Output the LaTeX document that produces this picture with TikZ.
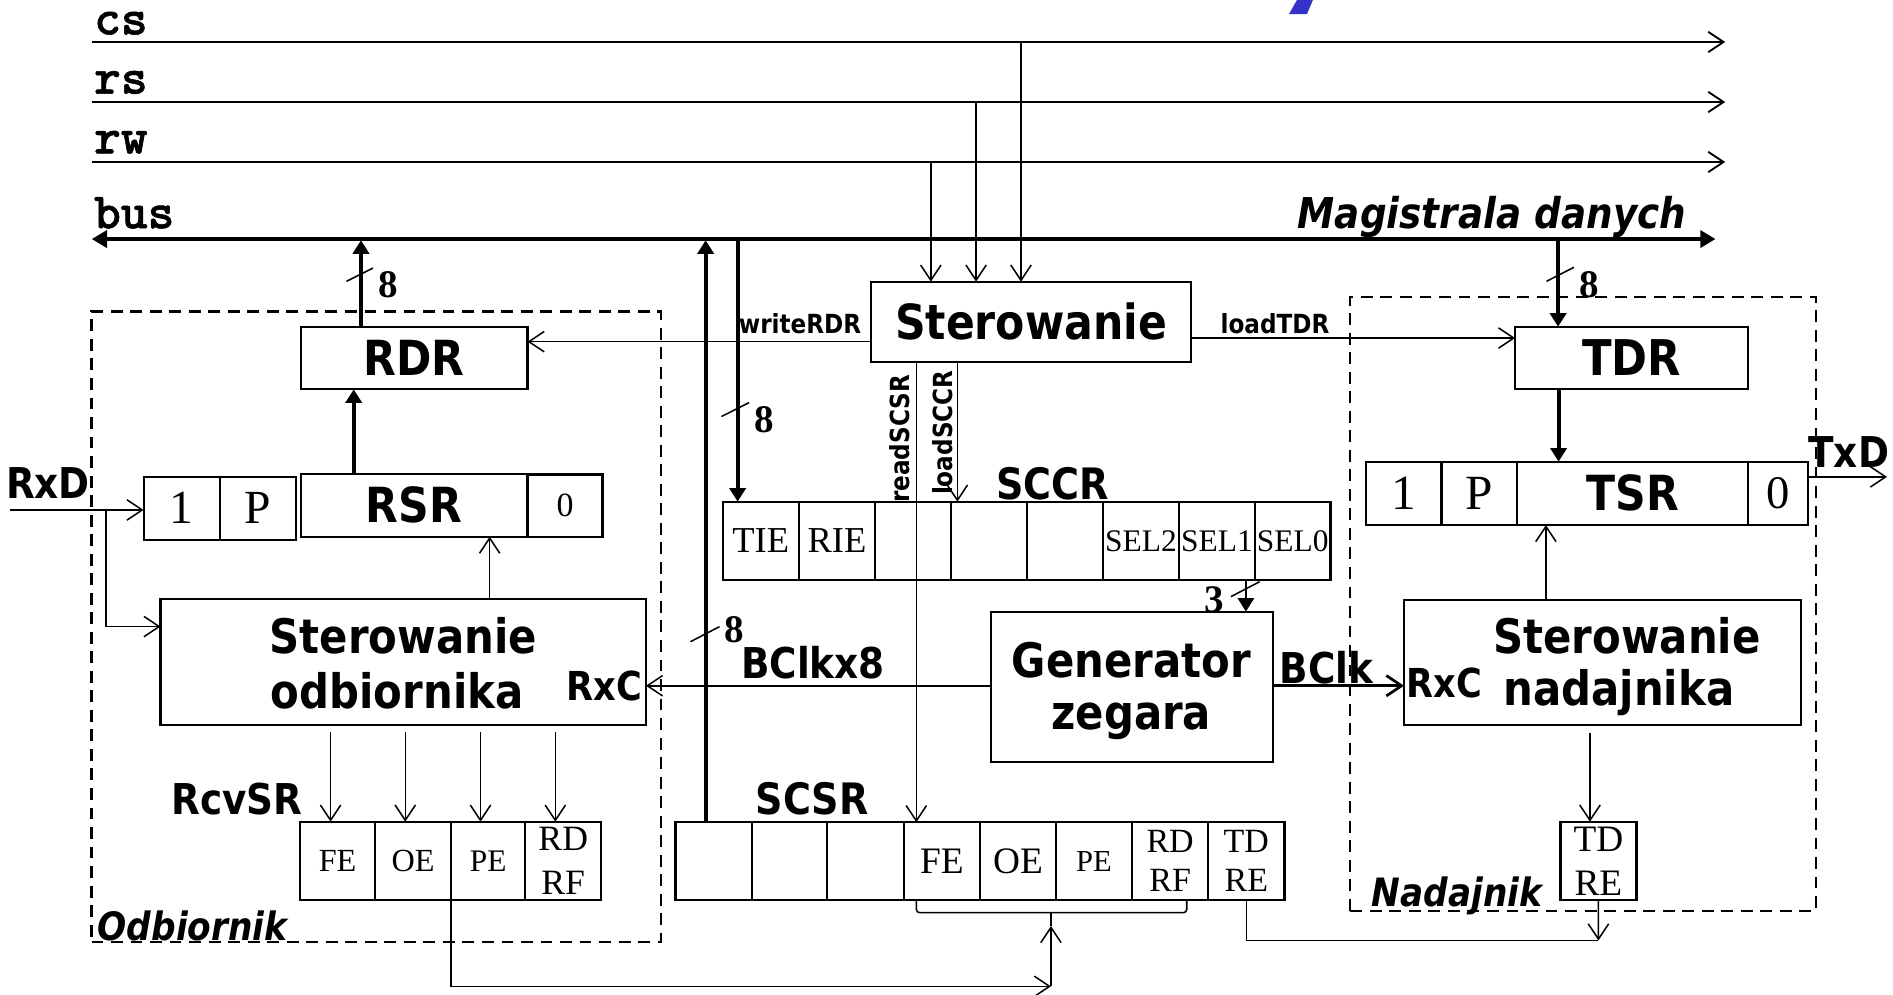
\documentclass[tikz,border=0pt]{standalone}
\usepackage{fontspec}
\usetikzlibrary{arrows.meta}
\newfontfamily\dvs[FakeStretch=0.88]{DejaVu Sans}
\newfontfamily\tms{Liberation Serif}
\newfontfamily\lmtb[FakeBold=1.2]{lmmonolt10-bold.otf}
\newcommand\fSB[1]{\dvs\bfseries\fontsize{#1}{#1}\selectfont}
\newcommand\fSBI[1]{\dvs\bfseries\itshape\fontsize{#1}{#1}\selectfont}
\newcommand\fTR[1]{\tms\fontsize{#1}{#1}\selectfont}
\newcommand\fTRl[2]{\tms\fontsize{#1}{#2}\selectfont}
\newcommand\fTB[1]{\tms\bfseries\fontsize{#1}{#1}\selectfont}
\newcommand\fCB[1]{\lmtb\fontsize{#1}{#1}\selectfont}
\definecolor{markblue}{RGB}{51,51,204}
\begin{document}
\begin{tikzpicture}[x=0.025cm,y=-0.025cm,
  ln/.style={line width=0.9pt},
  ctl/.style={line width=1.1pt},
  thk/.style={line width=2.4pt},
  med/.style={line width=1.6pt},
  oarr/.style={-{Straight Barb[length=9pt,width=12pt]}},
  farr/.style={-{Triangle[length=8pt,width=9.5pt]}},
  bx/.style={draw,line width=1.3pt,inner sep=0pt,outer sep=0pt,anchor=north west},
  sz/.style 2 args={minimum width=#1*0.025cm,minimum height=#2*0.025cm},
  dsh/.style={draw,dash pattern=on 7pt off 4.5pt,line width=1.2pt,inner sep=0pt,outer sep=0pt,anchor=north west},
  lbl/.style={inner sep=0pt,outer sep=0pt}]
\useasboundingbox (0,0) rectangle (1568,824);

% blue mark at top
\fill[markblue] (1074.3,0) -- (1087.5,0) -- (1082.6,11.6) -- (1067.7,11.6) -- cycle;

% control lines
\node[lbl,anchor=base west] (lcs) at (78,28.5) {\fCB{30}cs};
\node[lbl,anchor=base west] (lrs) at (78,77.5) {\fCB{30}rs};
\node[lbl,anchor=base west] (lrw) at (78,127) {\fCB{30}rw};
\node[lbl,anchor=base west] (lbus) at (78,189) {\fCB{30}bus};
\coordinate (cs0) at (76,34.8); \coordinate (cs1) at (1429,34.8);
\coordinate (rs0) at (76,84.5); \coordinate (rs1) at (1429,84.5);
\coordinate (rw0) at (76,134.2); \coordinate (rw1) at (1429,134.2);
\draw[ctl,oarr] (cs0) -- (cs1);
\draw[ctl,oarr] (rs0) -- (rs1);
\draw[ctl,oarr] (rw0) -- (rw1);
\coordinate (bus0) at (76,198); \coordinate (bus1) at (1421,198);
\draw[line width=2.8pt,{Triangle[length=9pt,width=10pt]}-{Triangle[length=9pt,width=10pt]}] (bus0) -- (bus1);
\node[lbl,anchor=base west] (mag) at (1075,189) {\fSBI{25}Magistrala danych};

% central control
\node[bx,sz={265}{66.7}] (ster) at (721.5,233.3) {\fSB{28.5}Sterowanie};
\coordinate (rwd) at (771,134.2);
\coordinate (rsd) at (808.5,84.5);
\coordinate (csd) at (845.7,34.8);
\draw[ln,oarr] (rwd) -- (rwd |- ster.north);
\draw[ln,oarr] (rsd) -- (rsd |- ster.north);
\draw[ln,oarr] (csd) -- (csd |- ster.north);

% receiver
\node[dsh,sz={471.5}{522}] (odb) at (75.8,258) {};
\node[lbl,anchor=base west] (lodb) at (81,779) {\fSBI{23}Odbiornik};
\node[bx,sz={188}{51.5}] (rdr) at (249,271) {\fSB{28.5}RDR};
\coordinate (brdr) at (299,199);
\draw[thk,farr] (rdr.north -| brdr) -- (brdr);
\draw[ln] (287,233) -- (309,222);
\node[lbl] (n8a) at (322,236) {\fTB{23}8};

\node[bx,sz={63}{52}] (r1) at (119,395) {\fTR{28}1};
\node[bx,sz={63}{52}] (rP) at (182,395) {\fTR{28}P};
\node[bx,sz={188}{52}] (rsr) at (249,392.5) {\fSB{28.5}RSR};
\node[bx,sz={62}{52}] (r0) at (437,393) {\fTR{20}0};
\coordinate (xr) at (293,0);
\draw[thk,farr] (rsr.north -| xr) -- (rdr.south -| xr);

\node[lbl,anchor=base west] (lrxd) at (5,413) {\fSB{25}RxD};
\coordinate (rxd0) at (8,422.4);
\draw[ln,oarr] (rxd0) -- (rxd0 -| r1.west);
\node[bx,sz={402}{104}] (sodb) at (133,496.4) {};
\coordinate (rxdb) at (88,422.4);
\coordinate (ysod) at (0,519);
\draw[ln,oarr] (rxdb) |- (ysod -| sodb.west);
\node[lbl,anchor=base] (sodbt1) at (334,541) {\fSB{28}Sterowanie};
\node[lbl,anchor=base] (sodbt2) at (329,587) {\fSB{28}odbiornika};
\node[lbl,anchor=base west] (rxc1) at (469.6,580) {\fSB{23.5}RxC};
\coordinate (xs) at (405.6,0);
\draw[ln,oarr] (sodb.north -| xs) -- (rsr.south -| xs);

\node[bx,sz={62.3}{65},font=\fTR{19}] (rfe) at (248.5,680.6) {FE};
\node[bx,sz={62.9}{65},font=\fTR{19}] (roe) at (310.8,680.6) {OE};
\node[bx,sz={61.4}{65},font=\fTR{18.5}] (rpe) at (373.7,680.6) {PE};
\node[bx,sz={62.9}{65},align=center,font={\fTRl{21}{26}}] (rrd) at (435.1,680.6) {RD\\RF};
\node[lbl,anchor=base west] (lrcv) at (142,675) {\fSB{25}RcvSR};
\coordinate (ra1) at (273.8,606.5);
\coordinate (ra2) at (335.7,606.5);
\coordinate (ra3) at (398,606.5);
\coordinate (ra4) at (460,606.5);
\draw[ln,oarr] (ra1) -- (ra1 |- rfe.north);
\draw[ln,oarr] (ra2) -- (ra2 |- roe.north);
\draw[ln,oarr] (ra3) -- (ra3 |- rpe.north);
\draw[ln,oarr] (ra4) -- (ra4 |- rrd.north);

% writeRDR / loadTDR
\coordinate (ywr) at (0,283);
\draw[ln,oarr] (ster.west |- ywr) -- (rdr.east |- ywr);
\node[lbl,anchor=base west] (lwr) at (612,276) {\fSB{15.5}writeRDR};

% SCCR
\node[bx,sz={62.8}{65},font=\fTR{21.5}] (c1) at (598.7,415.5) {TIE};
\node[bx,sz={63.5}{65},font=\fTR{21.5}] (c2) at (661.5,415.5) {RIE};
\node[bx,sz={63}{65}] (c3) at (725,415.5) {};
\node[bx,sz={63}{65}] (c4) at (788,415.5) {};
\node[bx,sz={62.6}{65}] (c5) at (851,415.5) {};
\node[bx,sz={63}{65},font=\fTR{18.5}] (c6) at (913.6,415.5) {SEL2};
\node[bx,sz={62.9}{65},font=\fTR{18.5}] (c7) at (976.6,415.5) {SEL1};
\node[bx,sz={62.5}{65},font=\fTR{18.5}] (c8) at (1039.5,415.5) {SEL0};
\node[lbl,anchor=base west] (lsccr) at (825,414) {\fSB{25.5}SCCR};
\coordinate (btie) at (611,199);
\draw[thk,farr] (btie) -- (btie |- c1.north);
\draw[ln] (597.6,345) -- (620.5,333.5);
\node[lbl] (n8b) at (633,348) {\fTB{23}8};

% SCSR
\node[bx,sz={63.2}{64.5}] (s1) at (559.5,681) {};
\node[bx,sz={62.6}{64.5}] (s2) at (622.7,681) {};
\node[bx,sz={63.2}{64.5}] (s3) at (685.3,681) {};
\node[bx,sz={63.5}{64.5},font=\fTR{22}] (s4) at (748.5,681) {FE};
\node[bx,sz={62.6}{64.5},font=\fTR{22}] (s5) at (812,681) {OE};
\node[bx,sz={63.2}{64.5},font=\fTR{18}] (s6) at (874.6,681) {PE};
\node[bx,sz={62.9}{64.5},align=center,font={\fTRl{20}{23}}] (s7) at (937.8,681) {RD\\RF};
\node[bx,sz={63.3}{64.5},align=center,font={\fTRl{20}{23}}] (s8) at (1000.7,681) {TD\\RE};
\node[lbl,anchor=base west] (lscsr) at (626,675) {\fSB{25.5}SCSR};
\coordinate (bscsr) at (584.5,199);
\draw[thk,farr] (s1.north -| bscsr) -- (bscsr);
\draw[ln] (572,531.5) -- (596,519);
\node[lbl] (n8c) at (608,522) {\fTB{23}8};

% readSCSR / loadSCCR
\coordinate (xrd) at (759,0);
\draw[ln,oarr] (ster.south -| xrd) -- (s4.north -| xrd);
\node[lbl,rotate=90,anchor=base west] (lrd) at (753,416.5) {\fSB{15.5}readSCSR};
\coordinate (xld) at (793,0);
\draw[ln,oarr] (ster.south -| xld) -- (c4.north -| xld);
\node[lbl,rotate=90,anchor=base west] (lld) at (789,410) {\fSB{15.5}loadSCCR};

% bracket and feedback
\coordinate (xbr) at (983,0);
\coordinate (bc) at (870.5,756);
\draw[ln,rounded corners=2pt] (s4.south -| xrd) -- (bc -| xrd) -- (bc -| xbr) -- (s7.south -| xbr);
\draw[ln] (bc) -- ++(0,11) coordinate (bct);
\coordinate (bb) at (870.5,817);
\draw[ln,oarr] (bb) -- (bct);
\draw[ln,oarr] (rpe.south west) |- (bb);

% clock generator
\node[bx,sz={233.5}{124.4}] (gen) at (821,506.6) {};
\node[lbl,anchor=base] (gent1) at (937,561) {\fSB{28}Generator};
\node[lbl,anchor=base] (gent2) at (937,604) {\fSB{28}zegara};
\coordinate (xsel) at (1032,0);
\draw[med,farr] (c8.south -| xsel) -- (gen.north -| xsel);
\draw[ln] (1019.6,494.2) -- (1043.4,481.8);
\node[lbl] (n3) at (1006,497) {\fTB{23}3};
\coordinate (yclk) at (0,568);
\draw[ln,oarr] (gen.west |- yclk) -- (sodb.east |- yclk);
\node[lbl,anchor=base west] (lbx8) at (614,562) {\fSB{25}BClkx8};

% transmitter
\node[dsh,sz={385.5}{509}] (nad) at (1118.5,245.7) {};
\node[lbl,anchor=base west] (lnad) at (1136,751) {\fSBI{23}Nadajnik};
\node[bx,sz={193}{51.5}] (tdr) at (1255,270.6) {\fSB{29}TDR};
\coordinate (ylt) at (0,280);
\draw[ln,oarr] (ster.east |- ylt) -- (tdr.west |- ylt);
\node[lbl,anchor=base west] (llt) at (1011,276) {\fSB{15.5}loadTDR};
\coordinate (btdr) at (1290.6,199);
\draw[thk,farr] (btdr) -- (btdr |- tdr.north);
\draw[ln] (1281,233) -- (1303.7,221.4);
\node[lbl] (n8d) at (1316,236) {\fTB{23}8};

\node[bx,sz={62.5}{52.5}] (t1) at (1131.5,382.4) {\fTR{29}1};
\node[bx,sz={62.7}{52.5}] (tP) at (1194,382.4) {\fTR{29}P};
\node[bx,sz={191.3}{52.5}] (tsr) at (1256.7,382.4) {\fSB{28.5}TSR};
\node[bx,sz={49.6}{52.5}] (t0) at (1448,382.4) {\fTR{27.5}0};
\coordinate (xtt) at (1291,0);
\draw[thk,farr] (tdr.south -| xtt) -- (tsr.north -| xtt);
\coordinate (ytx) at (0,395);
\coordinate (txe) at (1563,395);
\draw[ln,oarr] (t0.east |- ytx) -- (txe);
\node[lbl,anchor=base west] (ltxd) at (1498,387) {\fSB{25}TxD};

\node[bx,sz={329}{103.5}] (snad) at (1163,497) {};
\node[lbl,anchor=base] (snadt1) at (1347.6,541) {\fSB{28}Sterowanie};
\node[lbl,anchor=base] (snadt2) at (1341,584) {\fSB{28}nadajnika};
\node[lbl,anchor=base west] (rxc2) at (1165,578) {\fSB{23.5}RxC};
\draw[med,oarr] (gen.east |- yclk) -- (snad.west |- yclk);
\node[lbl,anchor=base west] (lbclk) at (1060,566) {\fSB{25}BClk};
\coordinate (xsn) at (1280.5,0);
\draw[ln,oarr] (snad.north -| xsn) -- (tsr.south -| xsn);

\node[bx,sz={63}{65},align=center,font={\fTRl{22}{26}}] (tdre) at (1292.5,680.6) {TD\\RE};
\coordinate (sn1) at (1317,607);
\draw[ln,oarr] (sn1) -- (sn1 |- tdre.north);
\coordinate (jn) at (1324,779);
\draw[ln,oarr] (tdre.south) -- (jn);
\draw[ln] (s8.south) |- (jn);
\end{tikzpicture}
\end{document}
